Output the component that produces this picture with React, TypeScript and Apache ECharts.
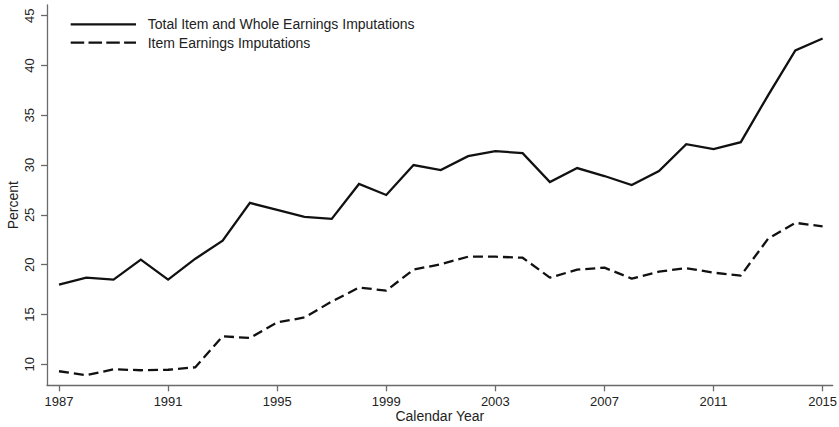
import React, { useEffect, useRef } from "react";
import * as echarts from "echarts";

const years = [
  1987, 1988, 1989, 1990, 1991, 1992, 1993, 1994, 1995, 1996, 1997, 1998, 1999, 2000,
  2001, 2002, 2003, 2004, 2005, 2006, 2007, 2008, 2009, 2010, 2011, 2012, 2013, 2014, 2015,
];
const totalImputations = [
  18.0, 18.7, 18.5, 20.5, 18.5, 20.6, 22.4, 26.2, 25.5, 24.8, 24.6, 28.1, 27.0, 30.0,
  29.5, 30.9, 31.4, 31.2, 28.3, 29.7, 28.9, 28.0, 29.4, 32.1, 31.6, 32.3, 37.0, 41.5, 42.7,
];
const itemImputations = [
  9.3, 8.9, 9.5, 9.4, 9.45, 9.7, 12.8, 12.65, 14.2, 14.7, 16.3, 17.7, 17.4, 19.5,
  20.05, 20.8, 20.8, 20.7, 18.7, 19.5, 19.7, 18.6, 19.3, 19.65, 19.2, 18.9, 22.6, 24.2, 23.85,
];
const xTicks = [1987, 1991, 1995, 1999, 2003, 2007, 2011, 2015];
const yTicks = [10, 15, 20, 25, 30, 35, 40, 45];
const seriesNames = ["Total Item and Whole Earnings Imputations", "Item Earnings Imputations"];

export default function App() {
  const ref = useRef<HTMLDivElement>(null);
  useEffect(() => {
    if (!ref.current) return;
    const chart = echarts.init(ref.current, null, { renderer: "svg" });
    const font = "Liberation Sans, Arial, sans-serif";
    const axisColor = "#6a6a6a";
    const textColor = "#222";
    const lineColor = "#111";
    const dash = [10, 5];
    const legendDash = [13.5, 4.3];
    const legendRows = [24.3, 42.7];
    const legendGraphic: any[] = [];
    seriesNames.forEach((name, i) => {
      legendGraphic.push({
        type: "line",
        shape: { x1: 70.7, y1: legendRows[i], x2: 136, y2: legendRows[i] },
        style: { stroke: lineColor, lineWidth: 2.3, lineDash: i === 0 ? null : legendDash },
      });
      legendGraphic.push({
        type: "text",
        x: 147.7,
        y: legendRows[i],
        style: {
          text: name,
          font: `14px ${font}`,
          fill: textColor,
          textVerticalAlign: "middle",
          verticalAlign: "middle",
        },
      });
    });
    chart.setOption({
      animation: false,
      backgroundColor: "#ffffff",
      grid: { left: 47, right: 6.3, top: 5, bottom: 41.7, containLabel: false, outerBoundsMode: "none" },
      graphic: legendGraphic,
      xAxis: {
        type: "value",
        min: 1986.56,
        max: 2015.37,
        name: "Calendar Year",
        nameLocation: "middle",
        nameGap: 23.7,
        nameMoveOverlap: false,
        nameTextStyle: { fontFamily: font, fontSize: 14, color: textColor },
        axisLine: { show: true, lineStyle: { color: axisColor, width: 1.3 } },
        axisTick: { show: true, length: 6, customValues: xTicks, lineStyle: { color: axisColor, width: 1.3 } },
        axisLabel: {
          customValues: xTicks,
          fontFamily: font,
          fontSize: 13,
          color: textColor,
          margin: 10,
          formatter: (v: number) => String(v),
        },
        splitLine: { show: false },
      },
      yAxis: {
        type: "value",
        min: 7.89,
        max: 46.07,
        name: "Percent",
        nameLocation: "middle",
        nameGap: 27,
        nameRotate: 90,
        nameMoveOverlap: false,
        nameTextStyle: { fontFamily: font, fontSize: 14, color: textColor, padding: [0, 20, 0, 0] },
        axisLine: { show: true, lineStyle: { color: axisColor, width: 1.3 } },
        axisTick: { show: true, length: 6, customValues: yTicks, lineStyle: { color: axisColor, width: 1.3 } },
        axisLabel: {
          customValues: yTicks,
          rotate: 90,
          fontFamily: font,
          fontSize: 13,
          color: textColor,
          margin: 11,
          formatter: (v: number) => String(v),
        },
        splitLine: { show: false },
      },
      series: [
        {
          name: seriesNames[0],
          type: "line",
          data: years.map((y, i) => [y, totalImputations[i]]),
          showSymbol: false,
          symbol: "none",
          lineStyle: { color: lineColor, width: 2.3, type: "solid", join: "miter" },
          itemStyle: { color: lineColor },
        },
        {
          name: seriesNames[1],
          type: "line",
          data: years.map((y, i) => [y, itemImputations[i]]),
          showSymbol: false,
          symbol: "none",
          lineStyle: { color: lineColor, width: 2.3, type: dash },
          itemStyle: { color: lineColor },
        },
      ],
    });
    return () => chart.dispose();
  }, []);
  return (
    <div
      ref={ref}
      style={{ position: "fixed", left: 0, top: 0, width: 839, height: 427, background: "#fff" }}
    />
  );
}
